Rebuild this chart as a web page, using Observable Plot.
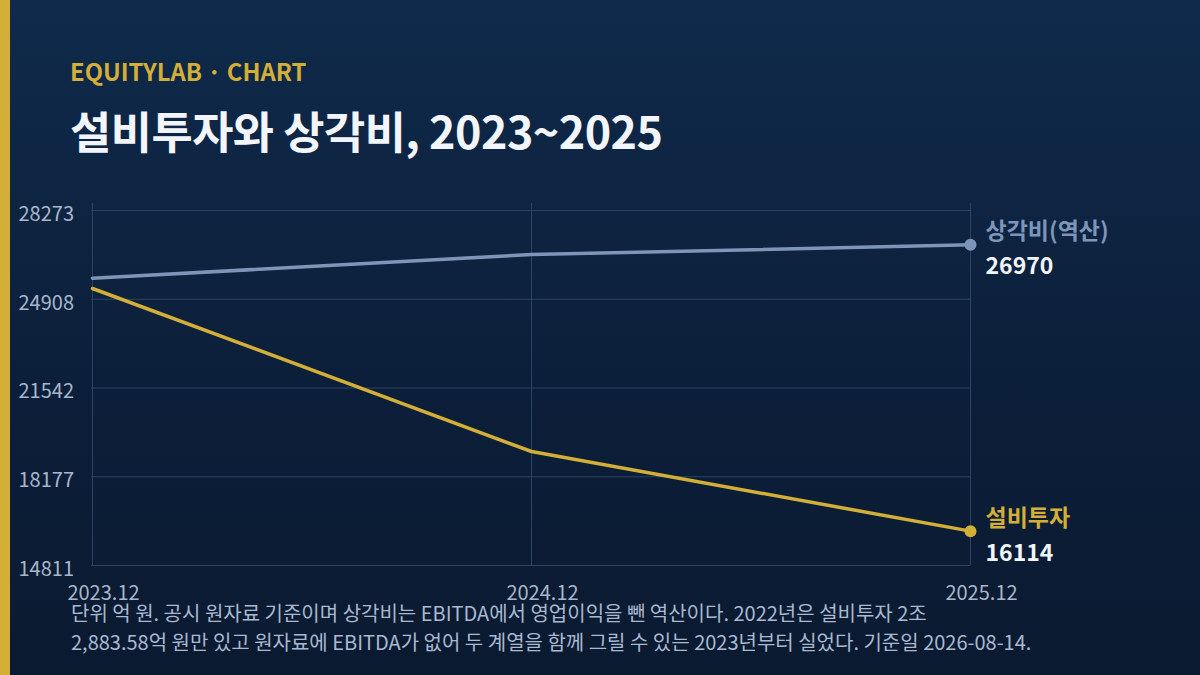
<!DOCTYPE html>
<html><head><meta charset="utf-8">
<script src="https://cdn.jsdelivr.net/npm/d3@7"></script>
<script src="https://cdn.jsdelivr.net/npm/@observablehq/plot@0.6"></script>
<style>
html,body{margin:0;padding:0;}
body{width:1200px;height:675px;overflow:hidden;position:relative;
 background:linear-gradient(180deg,#0f2a4b 0%,#0c1f3a 55%,#0a1a30 100%);
 font-family:"Noto Sans CJK KR","Noto Sans",sans-serif;}
#bar{position:absolute;left:0;top:0;width:10px;height:675px;background:#d4af37;}
#kicker{position:absolute;left:70px;top:54px;font-size:23.8px;font-weight:700;color:#d4af37;line-height:34px;}
#title{position:absolute;left:70px;top:100px;font-size:44.8px;font-weight:700;color:#f2f5fb;letter-spacing:-0.5px;line-height:60px;}
#chart{position:absolute;left:0;top:190px;}
#note{position:absolute;left:71px;top:598px;width:1100px;font-size:20px;line-height:29px;color:#a9b9d1;white-space:nowrap;}
</style></head>
<body>
<div id="bar"></div>
<div id="kicker">EQUITYLAB · CHART</div>
<div id="title">설비투자와 상각비, 2023~2025</div>
<div id="chart"></div>
<div id="note">단위 억 원. 공시 원자료 기준이며 상각비는 EBITDA에서 영업이익을 뺀 역산이다. 2022년은 설비투자 2조<br>2,883.58억 원만 있고 원자료에 EBITDA가 없어 두 계열을 함께 그릴 수 있는 2023년부터 실었다. 기준일 2026-08-14.</div>
<script>
const periods = ["2023.12", "2024.12", "2025.12"];
const capex = [25315, 19134, 16114];          // 설비투자
const depreciation = [25706, 26604, 26970];   // 상각비(역산)
const yTicks = [14811, 18177, 21542, 24908, 28273];
const seriesNames = ["설비투자", "상각비(역산)"];
const seriesColors = ["#d4af37", "#7d95b8"];

const rows = [];
periods.forEach((p, i) => {
  rows.push({period: p, value: capex[i], series: seriesNames[0]});
  rows.push({period: p, value: depreciation[i], series: seriesNames[1]});
});
const last = rows.filter(d => d.period === periods[periods.length - 1]);

const chart = Plot.plot({
  width: 1200,
  height: 410,
  marginLeft: 91,
  marginRight: 230,
  marginTop: 13,
  marginBottom: 35,
  style: {background: "transparent", fontFamily: "'Noto Sans CJK KR','Noto Sans',sans-serif", overflow: "visible"},
  x: {type: "point", domain: periods, padding: 0},
  y: {domain: [14811, 28273], range: [375, 20]},
  color: {domain: seriesNames, range: seriesColors},
  marks: [
    Plot.gridY(yTicks, {stroke: "#2b4466", strokeOpacity: 1, strokeWidth: 1}),
    Plot.gridX(periods, {stroke: "#2b4466", strokeOpacity: 1, strokeWidth: 1}),
    Plot.axisY(yTicks, {tickSize: 0, tickPadding: 73, textAnchor: "start", dy: 4, fontSize: 20, fill: "#a8b7cc", label: null, tickFormat: d => String(d)}),
    Plot.axisX(periods, {tickSize: 0, tickPadding: 20, dx: 11, fontSize: 20, fill: "#a8b7cc", label: null}),
    Plot.line(rows, {x: "period", y: "value", z: "series", stroke: "series", strokeWidth: 3.5, curve: "linear"}),
    Plot.dot(last, {x: "period", y: "value", fill: "series", r: 6}),
    Plot.text(last, {x: "period", y: "value", text: "series", fill: "series", textAnchor: "start", dx: 15, dy: -13, fontSize: 23, fontWeight: 700}),
    Plot.text(last, {x: "period", y: "value", text: d => String(d.value), fill: "#f2f5fb", textAnchor: "start", dx: 15, dy: 22, fontSize: 23, fontWeight: 700})
  ]
});
document.getElementById("chart").appendChild(chart);
</script>
</body></html>
